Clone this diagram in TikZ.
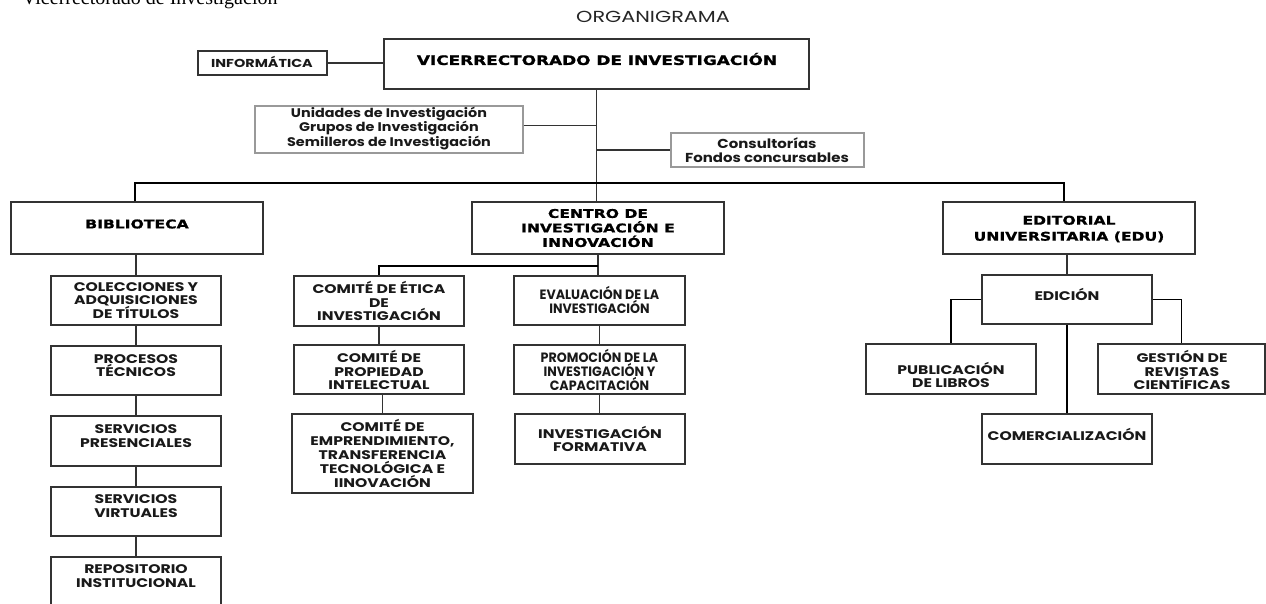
\documentclass[tikz,border=0pt]{standalone}
\usepackage{fontspec}
\setmainfont{Liberation Serif}
\newfontfamily\lb[FakeStretch=1.25]{Poppins}
\newfontfamily\lbm[FakeStretch=1.15]{Poppins}
\newfontfamily\lbw[FakeStretch=1.3]{Poppins}
\newfontfamily\lbc[FakeStretch=0.94]{Poppins}
\newfontfamily\hv[FakeStretch=1.3,FakeBold=1.2]{DejaVu Sans}
\tikzset{
  box/.style={draw=black!80, line width=1.2pt, rectangle, inner sep=0pt},
  lbox/.style={draw=black!40, line width=1.2pt, rectangle, inner sep=0pt},
  conn/.style={draw=black!80, line width=1.2pt},
  bus/.style={draw=black, line width=1.8pt},
  txt/.style={align=center, inner sep=0pt, font=\lb\bfseries\fontsize{12.5}{13.8}\selectfont, text=black!90},
  ctxt/.style={align=center, inner sep=0pt, font=\lbc\bfseries\fontsize{13.5}{12.5}\selectfont, text=black!90},
  htxt/.style={align=center, inner sep=0pt, font=\hv\bfseries\fontsize{12}{14.5}\selectfont, text=black},
}
\newcommand\mkbox[6][box]{\node[#1, minimum width={#5-#3}, minimum height={#6-#4}] (#2) at ({(#3+#5)/2},{(#4+#6)/2}) {};}
\begin{document}
\begin{tikzpicture}[x=1pt,y=-1pt]
\useasboundingbox (0,0) rectangle (1266,603);
% header
\node[anchor=base west, inner sep=0pt, font=\fontsize{20}{22}\selectfont] (hdr) at (22,4.5) {Vicerrectorado de Investigación};
\node[inner sep=0pt, font=\lbw\fontsize{16}{18}\selectfont, text=black!85] (title) at (653,17) {ORGANIGRAMA};
% top level
\mkbox{vic}{384}{39}{809}{89}
\node[htxt, font=\hv\bfseries\fontsize{13}{15}\selectfont] (vict) at (597,59) {VICERRECTORADO DE INVESTIGACIÓN};
\mkbox{inf}{198}{51}{327}{75}
\node[txt, font=\lb\bfseries\fontsize{11.5}{13}\selectfont] (inft) at (262,62) {INFORMÁTICA};
\mkbox[lbox]{uni}{255}{106}{523}{153}
\node[txt, font=\lbm\bfseries\fontsize{12.5}{13.8}\selectfont] (unit) at (389,128.5) {Unidades de Investigación\\Grupos de Investigación\\Semilleros de Investigación};
\mkbox[lbox]{con}{671}{133}{864}{167}
\node[txt, font=\lbm\bfseries\fontsize{13}{14}\selectfont] (cont) at (767,150) {Consultorías\\Fondos concursables};
% second level
\mkbox{bib}{11}{202}{263}{254}
\node[htxt] (bibt) at (137,224) {BIBLIOTECA};
\mkbox{cen}{472}{202}{724}{254}
\node[htxt] (cent) at (598,228) {CENTRO DE\\INVESTIGACIÓN E\\INNOVACIÓN};
\mkbox{edu}{943}{202}{1195}{254}
\node[htxt, font=\hv\bfseries\fontsize{12}{16}\selectfont] (edut) at (1069,229) {EDITORIAL\\UNIVERSITARIA (EDU)};
% biblioteca chain
\mkbox{c1}{51}{276}{221}{325}
\node[txt, font=\lb\bfseries\fontsize{12.5}{13}\selectfont] (c1t) at (136,300.5) {COLECCIONES Y\\ADQUISICIONES\\DE TÍTULOS};
\mkbox{c2}{51}{346}{221}{395}
\node[txt] (c2t) at (136,365.5) {PROCESOS\\TÉCNICOS};
\mkbox{c3}{51}{416}{221}{466}
\node[txt] (c3t) at (136,436) {SERVICIOS\\PRESENCIALES};
\mkbox{c4}{51}{487}{221}{536}
\node[txt] (c4t) at (136,506) {SERVICIOS\\VIRTUALES};
\mkbox{c5}{51}{557}{221}{612}
\node[txt] (c5t) at (136,576) {REPOSITORIO\\INSTITUCIONAL};
% centro chain
\mkbox{e1}{294}{276}{464}{326}
\node[txt] (e1t) at (379,301) {COMITÉ DE ÉTICA\\DE\\INVESTIGACIÓN};
\mkbox{e2}{294}{345}{464}{394}
\node[txt] (e2t) at (379,370) {COMITÉ DE\\PROPIEDAD\\INTELECTUAL};
\mkbox{e3}{292}{414}{473}{493}
\node[txt] (e3t) at (382.5,453.5) {COMITÉ DE\\EMPRENDIMIENTO,\\TRANSFERENCIA\\TECNOLÓGICA E\\IINOVACIÓN};
\mkbox{v1}{514}{276}{685}{325}
\node[ctxt] (v1t) at (599.5,300) {EVALUACIÓN DE LA\\INVESTIGACIÓN};
\mkbox{v2}{514}{345}{685}{394}
\node[ctxt] (v2t) at (599.5,370) {PROMOCIÓN DE LA\\INVESTIGACIÓN Y\\CAPACITACIÓN};
\mkbox{v3}{515}{414}{685}{464}
\node[txt] (v3t) at (600,439) {INVESTIGACIÓN\\FORMATIVA};
% editorial
\mkbox{edi}{982}{275}{1152}{324}
\node[txt] (edit) at (1067,294) {EDICIÓN};
\mkbox{pub}{866}{344}{1036}{394}
\node[txt] (pubt) at (951,375) {PUBLICACIÓN\\DE LIBROS};
\mkbox{ges}{1098}{344}{1265}{394}
\node[txt] (gest) at (1182,370) {GESTIÓN DE\\REVISTAS\\CIENTÍFICAS};
\mkbox{com}{982}{414}{1152}{464}
\node[txt] (comt) at (1067,434) {COMERCIALIZACIÓN};
% connectors top
\coordinate (bus) at (597,183);
\draw[conn] (inf.east) -- (inf.east -| vic.west);
\draw[conn] (vic.south) -- (vic.south |- cen.north);
\draw[conn] ([yshift=4pt]uni.east) -- ([yshift=4pt]uni.east -| vic.south);
\draw[conn] (con.west -| vic.south) -- (con.west);
\draw[bus] ([xshift=-2pt]bib.north) |- (bus) -| ([xshift=-5pt]edu.north);
% biblioteca
\draw[conn] (bib.south -| c1.north) -- (c1.north);
\draw[conn] (c1.south) -- (c2.north);
\draw[conn] (c2.south) -- (c3.north);
\draw[conn] (c3.south) -- (c4.north);
\draw[conn] (c4.south) -- (c5.north);
% centro
\draw[conn] (cen.south) -- (cen.south |- v1.north);
\draw[bus] ([yshift=-11pt]cen.south) -| (e1.north);
\draw[conn] (e1.south) -- (e2.north);
\draw[conn] (e2.south -| e3.north) -- (e3.north);
\draw[conn] (v1.south) -- (v2.north);
\draw[conn] (v2.south) -- (v2.south |- v3.north);
% editorial
\draw[conn] (edu.south -| edi.north) -- (edi.north);
\draw[bus] (edi.west) -| (pub.north);
\draw[bus] (edi.east) -| (ges.north);
\draw[bus] (edi.south) -- (com.north);
\end{tikzpicture}
\end{document}
